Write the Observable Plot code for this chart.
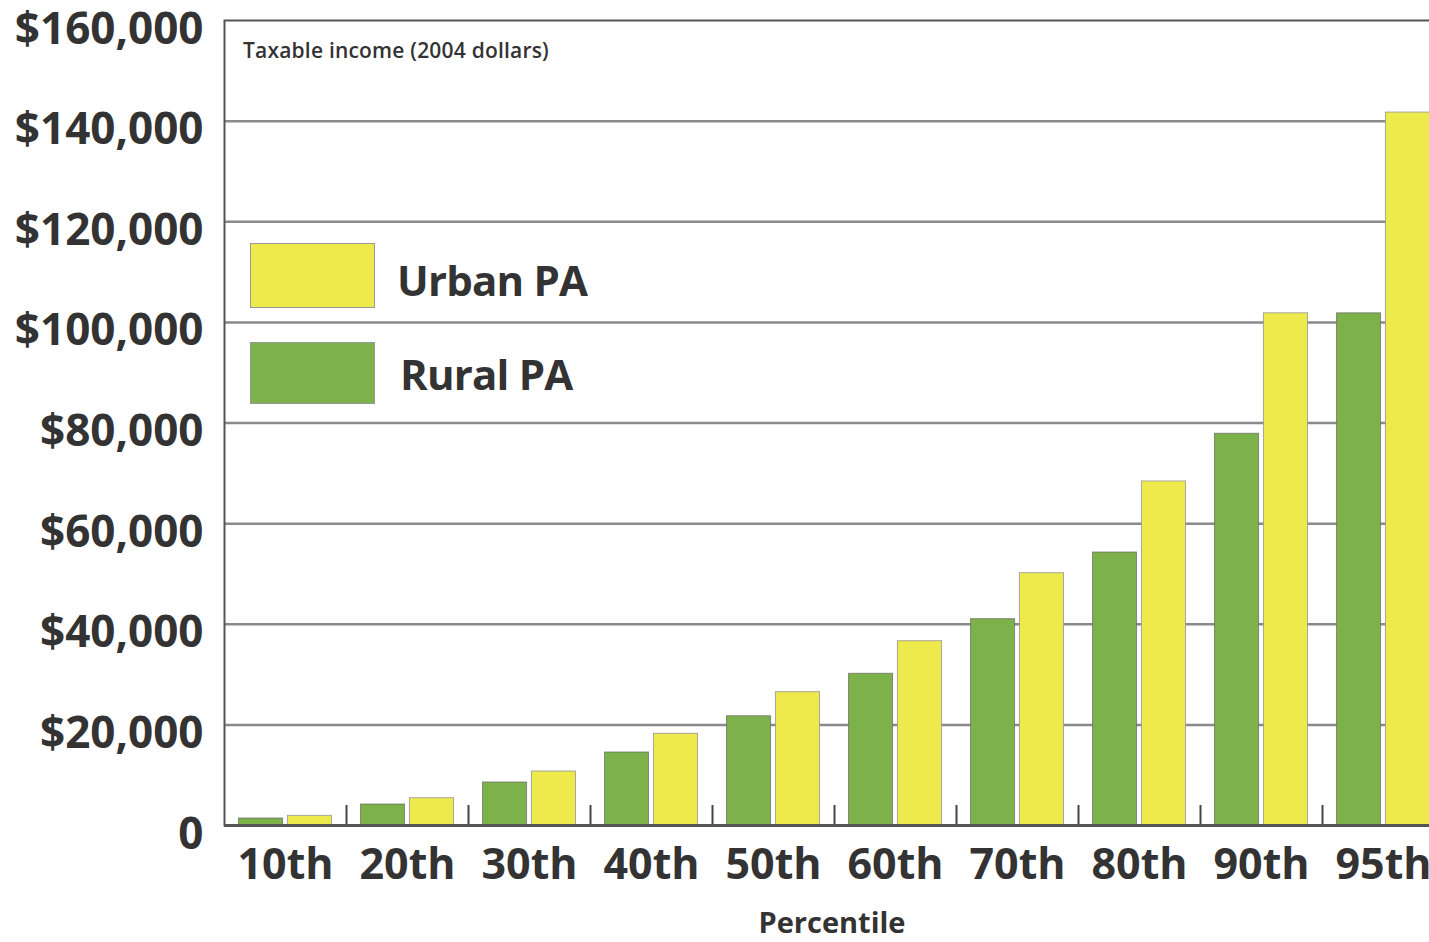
<!DOCTYPE html>
<html>
<head>
<meta charset="utf-8">
<script src="https://cdn.jsdelivr.net/npm/d3@7"></script>
<script src="https://cdn.jsdelivr.net/npm/@observablehq/plot@0.6"></script>
<style>
  html, body { margin: 0; padding: 0; overflow: hidden; background: #fff; }
  #wrap { position: relative; width: 1444px; height: 942px; font-family: "Open Sans", sans-serif; color: #333; }
  .ov { position: absolute; line-height: 1; white-space: nowrap; }
  .note { left: 243px; top: 40px; font-size: 21px; font-weight: 600; letter-spacing: 0.2px; color: #333; }
  .sw { position: absolute; box-sizing: border-box; border: 1.5px solid #999; }
  .legtxt { font-size: 42px; font-weight: 700; letter-spacing: -0.8px; color: #333; }
  .xlabel { left: 224px; width: 1216px; text-align: center; top: 907px; font-size: 29px; font-weight: 700; color: #333; }
</style>
</head>
<body>
<div id="wrap"></div>
<script>
// ---- data ----
const percentiles = ["10th", "20th", "30th", "40th", "50th", "60th", "70th", "80th", "90th", "95th"];
const ruralValues = [1390, 4170, 8550, 14510, 21720, 30150, 41010, 54260, 77860, 101800];
const urbanValues = [1920, 5430, 10730, 18220, 26500, 36630, 50150, 68380, 101800, 141700];
const yTicks = [0, 20000, 40000, 60000, 80000, 100000, 120000, 140000, 160000];
const gridTicks = [20000, 40000, 60000, 80000, 100000, 120000, 140000];
const seriesNames = ["Urban PA", "Rural PA"];
const seriesColors = ["#EEEA4B", "#7DB14A"];

const rows = percentiles.map((p, i) => ({percentile: p, rural: ruralValues[i], urban: urbanValues[i]}));

// ---- layout ----
const W = 1444, H = 942, mL = 224, mR = 0, mT = 20, mB = 117;
const bw = (W - mL - mR) / percentiles.length;

const chart = Plot.plot({
  width: W,
  height: H,
  marginLeft: mL,
  marginRight: mR,
  marginTop: mT,
  marginBottom: mB,
  style: {maxWidth: "none", fontFamily: "Open Sans, sans-serif", background: "transparent", overflow: "visible"},
  x: {domain: percentiles, padding: 0},
  y: {domain: [0, 160000]},
  marks: [
    Plot.ruleY(gridTicks, {stroke: "#8a8a8a", strokeWidth: 2.5}),
    Plot.barY(rows, {x: "percentile", y: "rural", fill: seriesColors[1], stroke: "#666", strokeWidth: 1, strokeOpacity: 0.7,
      insetLeft: bw * 0.119, insetRight: bw * 0.52}),
    Plot.barY(rows, {x: "percentile", y: "urban", fill: seriesColors[0], stroke: "#999", strokeWidth: 1, strokeOpacity: 0.85,
      insetLeft: bw * 0.52, insetRight: bw * 0.119}),
    Plot.ruleX(percentiles.slice(1), {x: d => d, dx: -bw / 2, insetTop: (H - mT - mB) - 20, stroke: "#444", strokeWidth: 2}),
    Plot.frame({stroke: "#555", strokeWidth: 2}),
    Plot.ruleY([0], {stroke: "#555", strokeWidth: 3}),
    Plot.axisY({ticks: yTicks, tickSize: 0, tickPadding: 21, dy: 9,
      tickFormat: d => d === 0 ? "0" : "$" + d3.format(",")(d),
      fontSize: 44, fontWeight: 700, fill: "#333", label: null}),
    Plot.axisX({tickSize: 0, tickPadding: 23, fontSize: 43, fontWeight: 700, fill: "#333", label: null})
  ]
});

const wrap = document.getElementById("wrap");
wrap.appendChild(chart);

function addDiv(cls, text, style) {
  const d = document.createElement("div");
  d.className = cls;
  if (text) d.textContent = text;
  Object.assign(d.style, style || {});
  wrap.appendChild(d);
  return d;
}
addDiv("ov note", "Taxable income (2004 dollars)");
addDiv("sw", null, {left: "250px", top: "243px", width: "125px", height: "65px", background: seriesColors[0]});
addDiv("sw", null, {left: "250px", top: "342px", width: "125px", height: "62px", background: seriesColors[1]});
addDiv("ov legtxt", seriesNames[0], {left: "397px", top: "259px"});
addDiv("ov legtxt", seriesNames[1], {left: "400px", top: "353px"});
addDiv("ov xlabel", "Percentile");
</script>
</body>
</html>
